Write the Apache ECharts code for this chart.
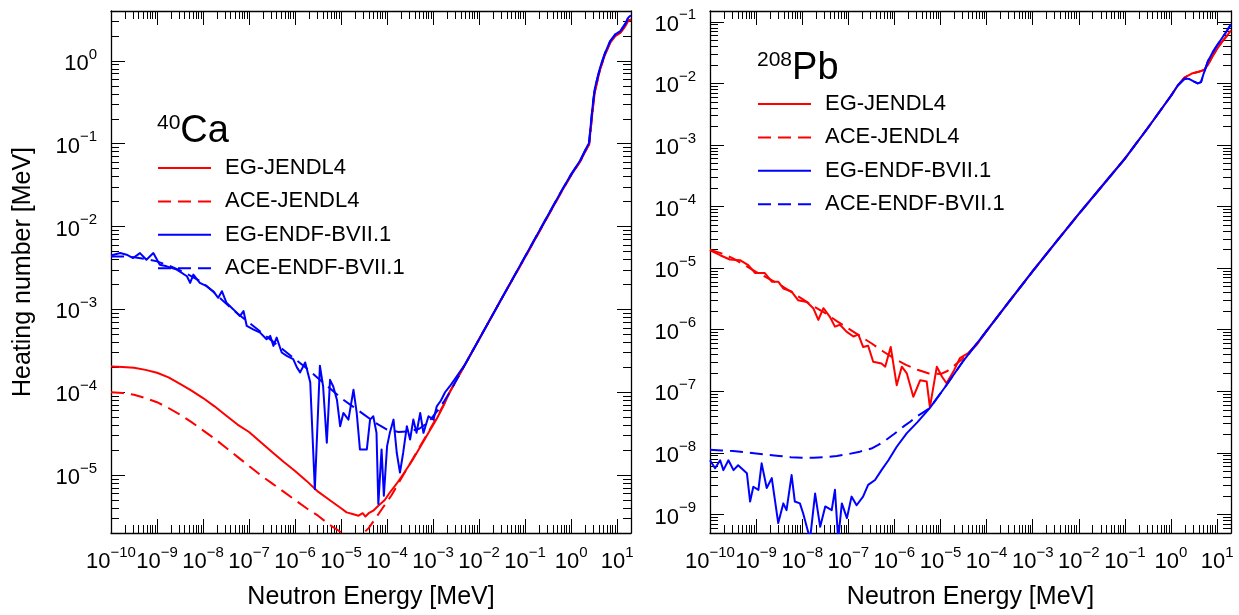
<!DOCTYPE html>
<html><head><meta charset="utf-8">
<script src="https://cdn.jsdelivr.net/npm/echarts@6/dist/echarts.min.js"></script>
<style>html,body{margin:0;padding:0;background:#fff}#c{width:1239px;height:615px}</style>
</head><body><div id="c"></div><script>
// ---------- DATA (pairs are [log10 E(MeV), log10 H(MeV)]) ----------
const seriesNames = ['EG-JENDL4', 'ACE-JENDL4', 'EG-ENDF-BVII.1', 'ACE-ENDF-BVII.1'];
const xTickValues = [1e-10, 1e-9, 1e-8, 1e-7, 1e-6, 1e-5, 1e-4, 1e-3, 1e-2, 1e-1, 1, 10];
const caYTickValues = [1e-5, 1e-4, 1e-3, 1e-2, 1e-1, 1];
const pbYTickValues = [1e-9, 1e-8, 1e-7, 1e-6, 1e-5, 1e-4, 1e-3, 1e-2, 1e-1];
const xRange = [1e-10, 20];
const caYRange = [2e-6, 4];
const pbYRange = [5e-10, 0.15];

// 40Ca
const caTailBlue = [[-2.3,-3.66],[-2.0,-3.36],[-1.5,-2.86],[-1.0,-2.36],[-0.5,-1.86],[-0.2,-1.56],[0.0,-1.37],[0.2,-1.2],[0.35,-1.03],[0.39,-0.99],[0.43,-0.75],[0.48,-0.48],[0.52,-0.32],[0.63,-0.08],[0.74,0.1],[0.85,0.24],[0.96,0.32],[1.07,0.36],[1.18,0.45],[1.24,0.52],[1.3,0.55]];
const caTailRed = [[-2.3,-3.66],[-2.0,-3.36],[-1.5,-2.86],[-1.0,-2.37],[-0.5,-1.87],[-0.2,-1.57],[0.0,-1.38],[0.2,-1.21],[0.35,-1.05],[0.39,-1.01],[0.43,-0.8],[0.48,-0.53],[0.52,-0.36],[0.63,-0.1],[0.74,0.08],[0.85,0.22],[0.96,0.3],[1.07,0.34],[1.18,0.42],[1.24,0.48],[1.3,0.5]];
const caEgJendl = [[-10,-3.69],[-9.75,-3.695],[-9.5,-3.705],[-9.25,-3.73],[-9.0,-3.765],[-8.75,-3.82],[-8.5,-3.9],[-8.25,-3.98],[-8.0,-4.07],[-7.75,-4.17],[-7.5,-4.28],[-7.25,-4.39],[-7.0,-4.48],[-6.75,-4.6],[-6.5,-4.72],[-6.25,-4.84],[-6.0,-4.95],[-5.75,-5.07],[-5.5,-5.2],[-5.25,-5.3],[-5.0,-5.4],[-4.88,-5.45],[-4.75,-5.47],[-4.62,-5.49],[-4.53,-5.46],[-4.47,-5.5],[-4.4,-5.46],[-4.3,-5.43],[-4.19,-5.37],[-4.05,-5.3],[-3.94,-5.21],[-3.8,-5.11],[-3.65,-4.99],[-3.46,-4.83],[-3.28,-4.66],[-3.1,-4.49],[-2.92,-4.32],[-2.78,-4.17],[-2.64,-4.0]];
const caAceJendl = [[-10,-4.0],[-9.75,-4.01],[-9.5,-4.03],[-9.25,-4.07],[-9.0,-4.12],[-8.75,-4.19],[-8.5,-4.27],[-8.25,-4.36],[-8.0,-4.46],[-7.75,-4.56],[-7.5,-4.67],[-7.25,-4.78],[-7.0,-4.89],[-6.75,-5.0],[-6.5,-5.1],[-6.25,-5.2],[-6.0,-5.3],[-5.75,-5.4],[-5.5,-5.49],[-5.25,-5.6],[-5.0,-5.69],[-4.85,-5.73],[-4.7,-5.75],[-4.55,-5.72],[-4.4,-5.64],[-4.25,-5.52],[-4.1,-5.4],[-3.9,-5.24],[-3.68,-5.03],[-3.5,-4.86],[-3.28,-4.65],[-3.1,-4.48],[-2.92,-4.3],[-2.78,-4.16],[-2.64,-4.0]];
const caEgEndf = [[-10,-2.35],[-9.8,-2.32],[-9.66,-2.34],[-9.52,-2.38],[-9.37,-2.32],[-9.23,-2.4],[-9.08,-2.32],[-8.94,-2.46],[-8.79,-2.48],[-8.57,-2.52],[-8.35,-2.6],[-8.28,-2.68],[-8.21,-2.58],[-8.07,-2.68],[-7.92,-2.72],[-7.78,-2.78],[-7.67,-2.86],[-7.59,-2.78],[-7.49,-2.92],[-7.34,-3.0],[-7.2,-3.08],[-7.12,-3.02],[-7.05,-3.2],[-6.91,-3.24],[-6.76,-3.28],[-6.62,-3.36],[-6.54,-3.32],[-6.47,-3.44],[-6.4,-3.34],[-6.29,-3.52],[-6.18,-3.56],[-6.04,-3.6],[-5.96,-3.7],[-5.89,-3.76],[-5.78,-3.64],[-5.67,-3.88],[-5.57,-5.17],[-5.46,-3.68],[-5.39,-3.93],[-5.31,-4.61],[-5.24,-3.85],[-5.17,-3.93],[-5.09,-4.09],[-5.02,-4.41],[-4.95,-4.25],[-4.84,-4.33],[-4.73,-3.97],[-4.66,-4.25],[-4.59,-4.69],[-4.44,-4.69],[-4.37,-4.33],[-4.3,-4.29],[-4.23,-4.49],[-4.19,-5.35],[-4.12,-4.69],[-4.07,-5.25],[-4.0,-4.65],[-3.94,-4.49],[-3.86,-4.33],[-3.79,-4.73],[-3.72,-4.97],[-3.65,-4.73],[-3.57,-4.41],[-3.5,-4.57],[-3.43,-4.33],[-3.36,-4.49],[-3.28,-4.25],[-3.21,-4.49],[-3.1,-4.29],[-2.99,-4.33],[-2.92,-4.17],[-2.83,-4.1],[-2.74,-4.0],[-2.64,-3.93]];
const caAceEndf = [[-10,-2.36],[-9.75,-2.36],[-9.5,-2.37],[-9.25,-2.39],[-9.0,-2.42],[-8.75,-2.47],[-8.5,-2.53],[-8.25,-2.6],[-8.0,-2.68],[-7.75,-2.8],[-7.5,-2.93],[-7.25,-3.05],[-7.0,-3.16],[-6.75,-3.27],[-6.5,-3.38],[-6.25,-3.49],[-6.0,-3.6],[-5.75,-3.71],[-5.5,-3.83],[-5.25,-3.95],[-5.0,-4.07],[-4.75,-4.17],[-4.5,-4.27],[-4.25,-4.37],[-4.0,-4.45],[-3.75,-4.48],[-3.5,-4.47],[-3.3,-4.44],[-3.1,-4.36],[-2.9,-4.22],[-2.75,-4.1],[-2.64,-4.0]];

// 208Pb
const pbRise = [[-4.0,-6.02],[-3.5,-5.53],[-3.0,-5.05],[-2.5,-4.58],[-2.0,-4.12],[-1.5,-3.67],[-1.0,-3.22],[-0.5,-2.72],[0.0,-2.2],[0.15,-2.03]];
const pbTailBlue = [[0.3,-1.92],[0.4,-1.93],[0.5,-1.97],[0.58,-2.0],[0.65,-1.98],[0.7,-1.86],[0.75,-1.75],[0.8,-1.64],[0.9,-1.5],[1.0,-1.38],[1.1,-1.27],[1.2,-1.16],[1.3,-1.04]];
const pbTailRed = [[0.3,-1.9],[0.45,-1.84],[0.6,-1.81],[0.72,-1.78],[0.8,-1.7],[0.9,-1.56],[1.0,-1.44],[1.1,-1.33],[1.2,-1.24],[1.3,-1.14]];
const pbEgJendl = [[-10,-4.71],[-9.78,-4.79],[-9.57,-4.86],[-9.35,-4.87],[-9.17,-4.95],[-9.02,-5.08],[-8.81,-5.08],[-8.66,-5.22],[-8.52,-5.22],[-8.41,-5.33],[-8.23,-5.38],[-8.09,-5.52],[-7.9,-5.55],[-7.76,-5.65],[-7.65,-5.84],[-7.54,-5.65],[-7.4,-5.79],[-7.29,-5.95],[-7.18,-5.92],[-7.04,-6.03],[-6.89,-6.11],[-6.78,-6.08],[-6.68,-6.28],[-6.57,-6.26],[-6.46,-6.52],[-6.28,-6.55],[-6.2,-6.6],[-6.08,-6.28],[-5.95,-6.9],[-5.84,-6.6],[-5.73,-6.71],[-5.59,-7.09],[-5.44,-6.82],[-5.3,-6.84],[-5.23,-7.26],[-5.08,-6.6],[-4.97,-6.76],[-4.87,-6.87],[-4.72,-6.68],[-4.58,-6.46],[-4.4,-6.38],[-4.22,-6.25]];
const pbAceJendl = [[-10,-4.7],[-9.75,-4.76],[-9.5,-4.84],[-9.25,-4.95],[-9.0,-5.06],[-8.75,-5.16],[-8.5,-5.26],[-8.25,-5.38],[-8.0,-5.5],[-7.75,-5.62],[-7.5,-5.73],[-7.25,-5.86],[-7.0,-5.98],[-6.75,-6.1],[-6.5,-6.22],[-6.25,-6.35],[-6.0,-6.47],[-5.75,-6.57],[-5.5,-6.65],[-5.25,-6.71],[-5.0,-6.72],[-4.85,-6.67],[-4.7,-6.58],[-4.55,-6.49],[-4.4,-6.38],[-4.25,-6.26],[-4.1,-6.12]];
const pbEgEndf = [[-10,-8.12],[-9.89,-8.25],[-9.78,-8.12],[-9.71,-8.28],[-9.6,-8.12],[-9.49,-8.28],[-9.39,-8.2],[-9.2,-8.33],[-9.13,-8.79],[-9.06,-8.55],[-8.95,-8.6],[-8.88,-8.17],[-8.77,-8.57],[-8.66,-8.41],[-8.52,-9.14],[-8.41,-8.82],[-8.34,-8.93],[-8.23,-8.36],[-8.16,-8.79],[-8.05,-8.82],[-7.98,-8.98],[-7.83,-9.4],[-7.72,-8.66],[-7.61,-9.2],[-7.5,-8.87],[-7.36,-8.93],[-7.29,-8.6],[-7.22,-9.4],[-7.14,-8.82],[-7.03,-9.06],[-6.93,-8.71],[-6.82,-8.85],[-6.68,-8.71],[-6.57,-8.52],[-6.42,-8.44],[-6.28,-8.28],[-6.13,-8.12],[-5.95,-7.9],[-5.73,-7.68],[-5.5,-7.5],[-5.23,-7.27],[-4.9,-6.93],[-4.5,-6.5]];
const pbAceEndf = [[-10,-7.95],[-9.75,-7.96],[-9.5,-7.97],[-9.25,-7.99],[-9.0,-8.01],[-8.75,-8.03],[-8.5,-8.05],[-8.25,-8.07],[-8.0,-8.08],[-7.75,-8.08],[-7.5,-8.07],[-7.25,-8.05],[-7.0,-8.02],[-6.75,-7.98],[-6.5,-7.93],[-6.35,-7.87],[-6.2,-7.8],[-6.0,-7.69],[-5.8,-7.57],[-5.65,-7.49],[-5.5,-7.4],[-5.35,-7.33],[-5.23,-7.27],[-4.9,-6.93],[-4.5,-6.5]];

// ---------- CHART ----------
const FONT = '"Liberation Sans", Arial, Helvetica, sans-serif';
const toPts = arr => arr.map(p => [Math.pow(10, p[0]), Math.pow(10, p[1])]);

function minorTicks(range) {
  const out = [];
  const lo = Math.floor(Math.log10(range[0])), hi = Math.ceil(Math.log10(range[1]));
  for (let e = lo; e <= hi; e++) {
    for (let k = 2; k <= 9; k++) {
      const v = k * Math.pow(10, e);
      if (v >= range[0] && v <= range[1]) out.push(v);
    }
  }
  return out;
}
const RICH = {
  b: { fontSize: 22, lineHeight: 28, verticalAlign: 'bottom', fontFamily: FONT, color: '#000' },
  s: { fontSize: 15, lineHeight: 15, verticalAlign: 'top', fontFamily: FONT, color: '#000' }
};
function expLabel(v) {
  const e = Math.round(Math.log10(v));
  return '{b|10}{s|' + (e < 0 ? '\u2212' + (-e) : String(e)) + '}';
}
const LINE = { color: '#000', width: 1.3 };
const TICK = { color: '#000', width: 1 };

function axisSet(gridIndex, range, majors, pos1, pos2, labelCfg, nameCfg) {
  const minors = minorTicks(range);
  const base = {
    type: 'log', logBase: 10, gridIndex, min: range[0], max: range[1],
    splitLine: { show: false }, axisPointer: { show: false },
    axisLine: { show: false, onZero: false }, axisLabel: { show: false }, axisTick: { show: false }
  };
  const major = (pos, withLabels) => Object.assign({}, base, {
    position: pos,
    axisLine: { show: true, onZero: false, lineStyle: LINE },
    axisTick: { show: true, inside: true, length: 14, customValues: majors, lineStyle: TICK },
    axisLabel: withLabels ? Object.assign({ show: true, customValues: majors, formatter: expLabel, rich: RICH, showMinLabel: true, showMaxLabel: true, hideOverlap: false }, labelCfg) : { show: false }
  }, withLabels && nameCfg ? nameCfg : {});
  const minor = pos => Object.assign({}, base, {
    position: pos,
    axisTick: { show: true, inside: true, length: 8, customValues: minors, lineStyle: TICK }
  });
  return [major(pos1, true), minor(pos1), major(pos2, false), minor(pos2)];
}

const xName = { name: 'Neutron Energy [MeV]', nameLocation: 'middle', nameGap: 52,
  nameTextStyle: { fontSize: 25, fontFamily: FONT, color: '#000' } };
const yName = { name: 'Heating number [MeV]', nameLocation: 'middle', nameGap: 75,
  nameTextStyle: { fontSize: 25, fontFamily: FONT, color: '#000' } };

const xAxes = [].concat(
  axisSet(0, xRange, xTickValues, 'bottom', 'top', { margin: 12 }, xName),
  axisSet(1, xRange, xTickValues, 'bottom', 'top', { margin: 12 }, xName)
);
const yAxes = [].concat(
  axisSet(0, caYRange, caYTickValues, 'left', 'right', { margin: 14 }, yName),
  axisSet(1, pbYRange, pbYTickValues, 'left', 'right', { margin: 14 }, null)
);

const DASH = [13, 7];
const styles = [
  { color: '#ff0000', type: 'solid' },
  { color: '#ff0000', type: DASH },
  { color: '#0000ff', type: 'solid' },
  { color: '#0000ff', type: DASH }
];
function mk(nameIdx, data, grid) {
  const st = styles[nameIdx];
  return {
    type: 'line', name: seriesNames[nameIdx], data: toPts(data),
    xAxisIndex: grid * 4, yAxisIndex: grid * 4,
    symbol: 'none', showSymbol: false, clip: true, silent: true, smooth: false,
    itemStyle: { color: st.color },
    lineStyle: { color: st.color, width: 2, type: st.type, join: 'round' }
  };
}
const series = [
  mk(0, caEgJendl.concat(caTailRed), 0),
  mk(1, caAceJendl.concat(caTailRed), 0),
  mk(2, caEgEndf.concat(caTailBlue), 0),
  mk(3, caAceEndf.concat(caTailBlue), 0),
  mk(0, pbEgJendl.concat(pbRise, pbTailRed), 1),
  mk(1, pbAceJendl.concat(pbRise, pbTailRed), 1),
  mk(2, pbEgEndf.concat(pbRise, pbTailBlue), 1),
  mk(3, pbAceEndf.concat(pbRise, pbTailBlue), 1)
];

const legendBase = {
  orient: 'vertical', itemWidth: 53, itemHeight: 14, itemGap: 11.4, padding: 0,
  data: seriesNames, selectedMode: false,
  itemStyle: { opacity: 0, borderWidth: 0 },
  lineStyle: { width: 2 },
  textStyle: { fontSize: 22, lineHeight: 22, fontFamily: FONT, color: '#000', padding: [0, 0, 0, 9] }
};
const titleRich = {
  s: { fontSize: 21, lineHeight: 26, verticalAlign: 'top', fontWeight: 'normal', fontFamily: FONT, color: '#000' },
  m: { fontSize: 38, lineHeight: 38, verticalAlign: 'bottom', fontWeight: 'normal', fontFamily: FONT, color: '#000' }
};

const chart = echarts.init(document.getElementById('c'), null, { renderer: 'canvas' });
chart.setOption({
  animation: false,
  backgroundColor: '#fff',
  textStyle: { fontFamily: FONT },
  grid: [
    { left: 111, top: 11, width: 520, height: 522, containLabel: false, outerBoundsMode: 'none' },
    { left: 710, top: 11, width: 521, height: 522, containLabel: false, outerBoundsMode: 'none' }
  ],
  title: [
    { text: '{s|40}{m|Ca}', left: 157, top: 113, padding: 0, textStyle: { fontWeight: 'normal', rich: titleRich } },
    { text: '{s|208}{m|Pb}', left: 757, top: 50, padding: 0, textStyle: { fontWeight: 'normal', rich: titleRich } }
  ],
  legend: [
    Object.assign({}, legendBase, { left: 157, top: 157 }),
    Object.assign({}, legendBase, { left: 757, top: 93 })
  ],
  xAxis: xAxes,
  yAxis: yAxes,
  series: series
});
</script></body></html>
